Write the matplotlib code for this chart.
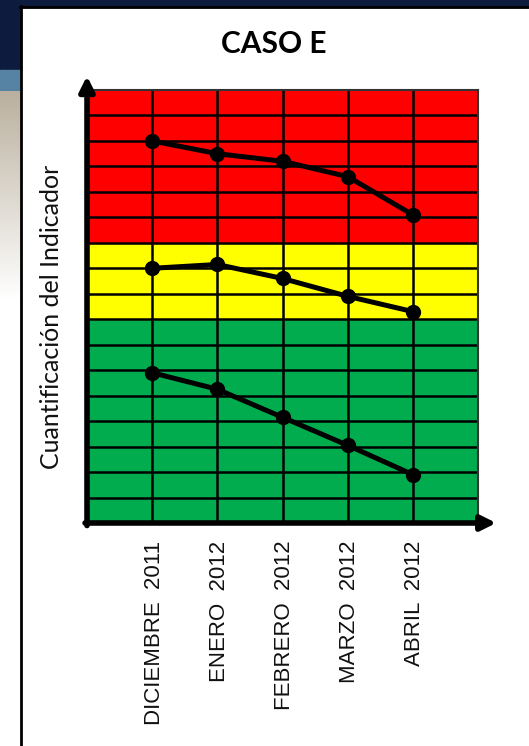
import matplotlib.pyplot as plt
import numpy as np
from matplotlib.patches import Rectangle

# Meses evaluados y valores de cada serie
meses = ["DICIEMBRE  2011", "ENERO  2012", "FEBRERO  2012", "MARZO  2012", "ABRIL  2012"]
serie_roja = [15.0, 14.5, 14.2, 13.6, 12.1]
serie_amarilla = [10.0, 10.15, 9.6, 8.9, 8.3]
serie_verde = [5.9, 5.25, 4.15, 3.05, 1.9]

# Limites de las zonas (verde / amarillo / rojo)
zonas = [(0, 8, "#00ac4e"), (8, 11, "#ffff00"), (11, 17, "#ff0000")]

W, H = 529, 746
fig = plt.figure(figsize=(W / 100, H / 100), dpi=100)

# ---- fondo de la diapositiva ----
bg = fig.add_axes([0, 0, 1, 1])
bg.set_xlim(0, W)
bg.set_ylim(H, 0)
bg.axis("off")
bg.add_patch(Rectangle((0, 0), W, 7, color="#0c1b3e"))
bg.add_patch(Rectangle((0, 0), 21, 70, color="#0c1b3e"))
bg.add_patch(Rectangle((0, 70), 21, 21, color="#5682a3"))
grad = np.linspace(0, 1, 200)[:, None]
bg.imshow(np.dstack([0.73 + 0.27 * grad, 0.69 + 0.31 * grad, 0.62 + 0.38 * grad]),
          extent=[0, 21, 300, 91], aspect="auto", zorder=1)
bg.plot([20.5, 20.5], [6, H], color="black", lw=2)
bg.plot([20, W], [6.5, 6.5], color="black", lw=2)
bg.set_xlim(0, W)
bg.set_ylim(H, 0)

# ---- grafico ----
ax = fig.add_axes([87 / W, (H - 523) / H, (478 - 87) / W, (523 - 90) / H])
ax.set_xlim(0, 6)
ax.set_ylim(0, 17)

for y0, y1, c in zonas:
    ax.axhspan(y0, y1, color=c, zorder=0)

for xv in range(1, 6):
    ax.axvline(xv, color="black", lw=1.8, zorder=1)
for yv in range(1, 17):
    ax.axhline(yv, color="black", lw=1.8, zorder=1)

x = np.arange(1, 6)
for serie in (serie_roja, serie_amarilla, serie_verde):
    ax.plot(x, serie, color="black", lw=3.6, marker="o", markersize=10, zorder=3)

for s in ax.spines.values():
    s.set_color("#333333")
    s.set_linewidth(1.5)
ax.set_xticks([])
ax.set_yticks([])

# Ejes con flecha
ax.annotate("", xy=(0, 17.55), xytext=(0, -0.1),
            arrowprops=dict(arrowstyle="-|>", lw=4, color="black", mutation_scale=22,
                            shrinkA=0, shrinkB=0),
            annotation_clip=False, zorder=5)
ax.annotate("", xy=(6.28, 0), xytext=(-0.03, 0),
            arrowprops=dict(arrowstyle="-|>", lw=4, color="black", mutation_scale=22,
                            shrinkA=0, shrinkB=0),
            annotation_clip=False, zorder=5)

# Etiquetas de los meses
for xi, mes in zip(x, meses):
    ax.text(xi + 0.03, -0.7, mes, rotation=90, ha="center", va="top",
            fontsize=16, family="Liberation Sans", color="#111111")

fig.text(52 / W, 1 - 317 / H, "Cuantificación del Indicador", rotation=90,
         ha="center", va="center", fontsize=18, family="Lato", color="#111111")
fig.text(274 / W, 1 - 44 / H, "CASO E", ha="center", va="center",
         fontsize=21.5, fontweight="bold", family="Lato", color="black")

fig.savefig("out.png", dpi=100)
